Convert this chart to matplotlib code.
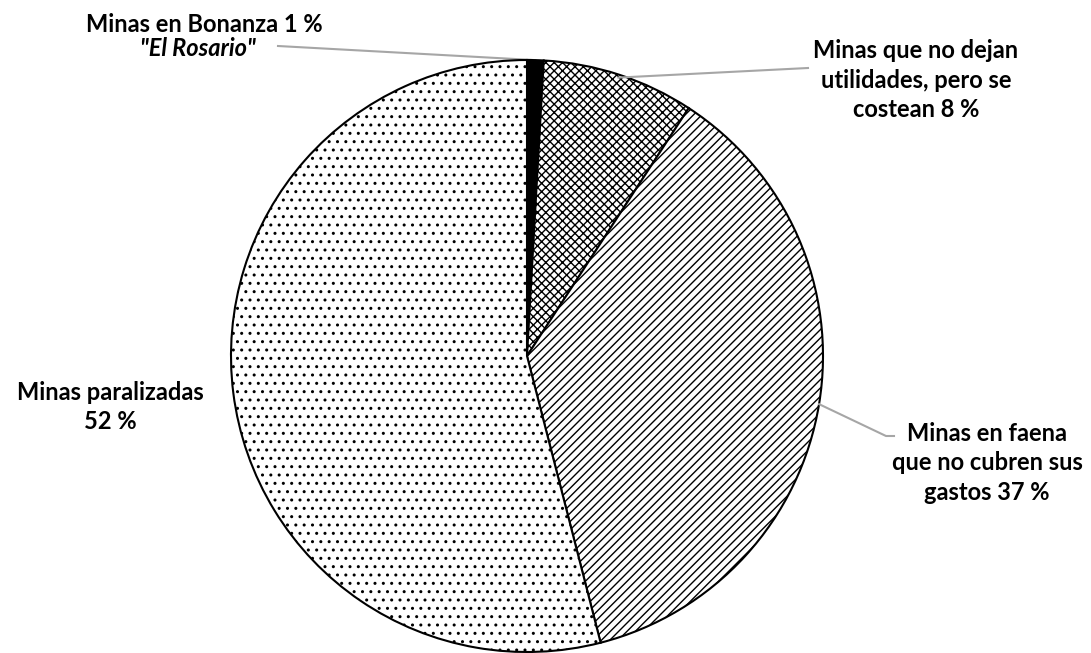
import numpy as np
import matplotlib.pyplot as plt

plt.rcParams['font.family'] = ['Lato', 'DejaVu Sans']
plt.rcParams['hatch.linewidth'] = 1.0

categorias = ['Minas en Bonanza', 'Minas que no dejan utilidades, pero se costean',
              'Minas en faena que no cubren sus gastos', 'Minas paralizadas']
valores = [0.9, 8.3, 36.8, 54.0]
# percentages as printed on the labels
rotulos = ['1 %', '8 %', '37 %', '52 %']
tramas = ['', 'xxxx', '////', '..']
rellenos = ['black', 'white', 'white', 'white']

fig = plt.figure(figsize=(10.91, 6.53), dpi=100)
ax = fig.add_axes([(527 - 296) / 1091, 1 / 653, 592 / 1091, 592 / 653])

wedges, _ = ax.pie(valores, startangle=90, counterclock=False, radius=1,
                   wedgeprops=dict(edgecolor='black', linewidth=1.5))
for w, h, c in zip(wedges, tramas, rellenos):
    w.set_facecolor(c)
    w.set_hatch(h)

ax.set_xlim(-1, 1)
ax.set_ylim(-1, 1)
ax.set_aspect('equal')
ax.axis('off')


def borde(w):
    a = np.deg2rad((w.theta1 + w.theta2) / 2)
    return np.cos(a), np.sin(a)


def px(x, y):
    return (x - 527) / 296, (356 - y) / 296


gris = '#a6a6a6'
txt = dict(fontsize=17, fontweight='bold', ha='center', va='center', color='black')

# Bonanza
ax.text(*px(204, 24), 'Minas en Bonanza ' + rotulos[0], **txt)
ax.text(*px(198, 48), '"El Rosario"', style='italic', **txt)
x0, y0 = borde(wedges[0])
x1, y1 = px(278, 46)
ax.plot([x1, x0], [y1, y0], color=gris, lw=1.5, clip_on=False, zorder=0.5)

# 8 %
ax.text(*px(916, 80), 'Minas que no dejan\nutilidades, pero se\ncostean ' + rotulos[1],
        linespacing=1.35, **txt)
x0, y0 = borde(wedges[1])
x0, y0 = 0.99 * x0, 0.99 * y0
x1, y1 = px(808, 68)
ax.plot([x0, x1], [y0, y1], color=gris, lw=1.5, clip_on=False)

# 37 %
ax.text(*px(987, 463), 'Minas en faena\nque no cubren sus\ngastos ' + rotulos[2],
        linespacing=1.35, **txt)
x0, y0 = borde(wedges[2])
xa, ya = px(886, 436)
xb, yb = px(894, 436)
ax.plot([x0, xa, xb], [y0, ya, yb], color=gris, lw=1.5, clip_on=False)

# 52 %
ax.text(*px(110, 407), 'Minas paralizadas\n' + rotulos[3], linespacing=1.35, **txt)

fig.savefig('out.png', dpi=100, facecolor='white')
